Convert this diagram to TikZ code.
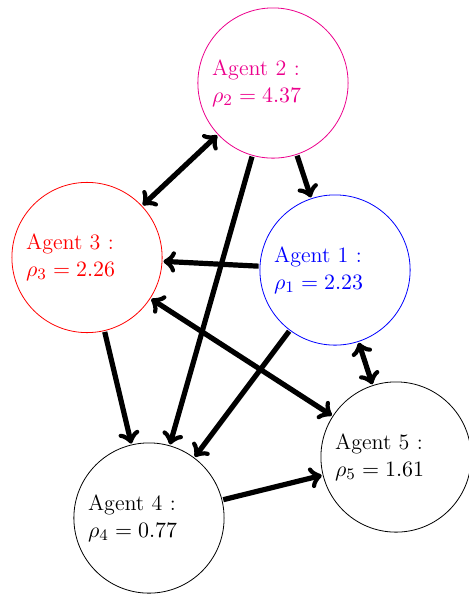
\documentclass[tikz,border=0pt]{standalone}
\usepackage{amsmath}
\begin{document}
\begin{tikzpicture}[>=to,
    agent/.style={circle, draw, minimum size=2.64cm, inner sep=0pt, text width=2.14cm, align=left, font=\fontsize{11}{13.4}\selectfont},
    link/.style={line width=2.6pt, shorten >=0.5pt, shorten <=0.5pt}]
    \useasboundingbox (0,0) rectangle (8.224,10.438);

    % Agentes
    \node[agent, magenta] (a2) at (4.797,8.979) {Agent 2 :\\ $\rho_2 = 4.37$};
    \node[agent, red] (a3) at (1.529,5.913) {Agent 3 :\\ $\rho_3 = 2.26$};
    \node[agent, blue] (a1) at (5.887,5.693) {Agent 1 :\\ $\rho_1 = 2.23$};
    \node[agent, black] (a5) at (6.959,2.407) {Agent 5 :\\ $\rho_5 = 1.61$};
    \node[agent, black] (a4) at (2.618,1.335) {Agent 4 :\\ $\rho_4 = 0.77$};

    % Ligacoes
    \draw[link, <->] (a3) -- (a2);
    \draw[link, ->] (a2) -- (a1);
    \draw[link, ->] (a2) -- (a4);
    \draw[link, ->] (a1) -- (a3);
    \draw[link, ->] (a1) -- (a4);
    \draw[link, <->] (a3) -- (a5);
    \draw[link, <->] (a1) -- (a5);
    \draw[link, ->] (a3) -- (a4);
    \draw[link, ->] (a4) -- (a5);
\end{tikzpicture}
\end{document}
